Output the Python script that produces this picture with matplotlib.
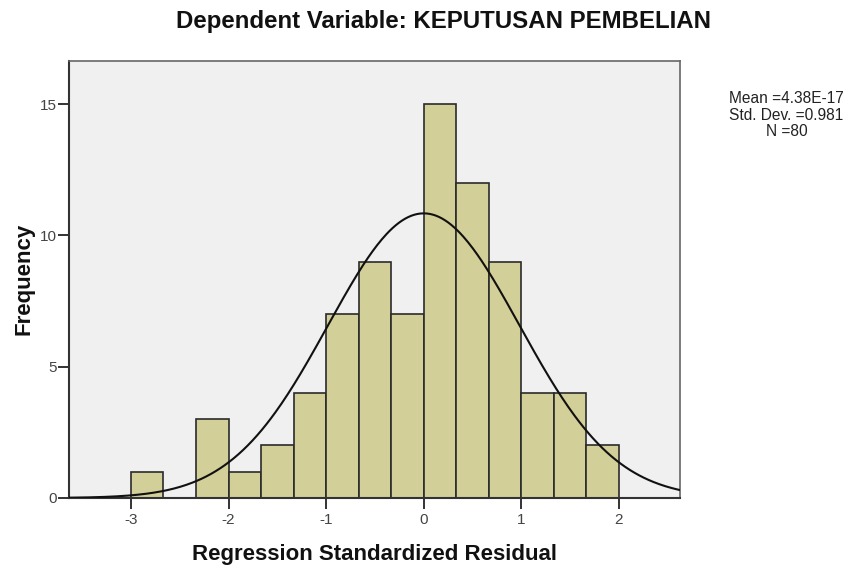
import numpy as np
import matplotlib
matplotlib.use('Agg')
import matplotlib.pyplot as plt

# histogram of regression standardized residuals (SPSS style)
bin_edges = [-3.0, -2.6667, -2.3333, -2.0, -1.6667, -1.3333, -1.0, -0.6667, -0.3333,
             0.0, 0.3333, 0.6667, 1.0, 1.3333, 1.6667, 2.0]
counts = [1, 0, 3, 1, 2, 4, 7, 9, 7, 15, 12, 9, 4, 4, 2]
mean_val = 4.38e-17
std_val = 0.981
n_obs = 80
x_ticks = [-3, -2, -1, 0, 1, 2]
y_ticks = [0, 5, 10, 15]

plt.rcParams['font.family'] = ['Liberation Sans', 'DejaVu Sans']

fig = plt.figure(figsize=(8.51, 5.67), dpi=100)
ax = fig.add_axes([0.0814, 0.1217, 0.7176, 0.7713])
ax.set_facecolor('#f0f0f0')

edges = np.array(bin_edges)
ax.bar(edges[:-1], counts, width=np.diff(edges), align='edge',
       color='#d3cf98', edgecolor='#2b2b2b', linewidth=1.2, zorder=2)

# normal curve scaled to the histogram
xs = np.linspace(-3.65, 2.65, 400)
bw = edges[1] - edges[0]
pdf = np.exp(-0.5 * ((xs - mean_val) / std_val) ** 2) / (std_val * np.sqrt(2 * np.pi))
ax.plot(xs, n_obs * bw * pdf, color='#111111', linewidth=1.5, zorder=3)

ax.set_xlim(-3.632, 2.625)
ax.set_ylim(0, 16.66)
ax.set_xticks(x_ticks)
ax.set_yticks(y_ticks)
ax.set_xticklabels([str(t) for t in x_ticks])
ax.tick_params(direction='out', length=8, width=1.4, color='#333333',
               labelsize=11, labelcolor='#444444')
ax.tick_params(axis='y', pad=1)
ax.tick_params(axis='x', pad=3)

for side in ['left', 'bottom']:
    ax.spines[side].set_color('#333333')
    ax.spines[side].set_linewidth(1.5)
for side in ['top', 'right']:
    ax.spines[side].set_color('#666666')
    ax.spines[side].set_linewidth(1.2)

ax.set_xlabel('Regression Standardized Residual', fontsize=16, fontweight='bold',
              color='#111111', labelpad=12)
ax.set_ylabel('Frequency', fontsize=16, fontweight='bold', color='#111111', labelpad=3.5)

fig.text(0.5217, 0.962, 'Dependent Variable: KEPUTUSAN PEMBELIAN', ha='center', va='center',
         fontsize=17.3, fontweight='bold', color='#111111')
fig.text(0.924, 0.84, 'Mean =4.38E-17\nStd. Dev. =0.981\nN =80', ha='center', va='top',
         fontsize=11.2, color='#222222', linespacing=1.15)

fig.savefig('out.png', dpi=100)
